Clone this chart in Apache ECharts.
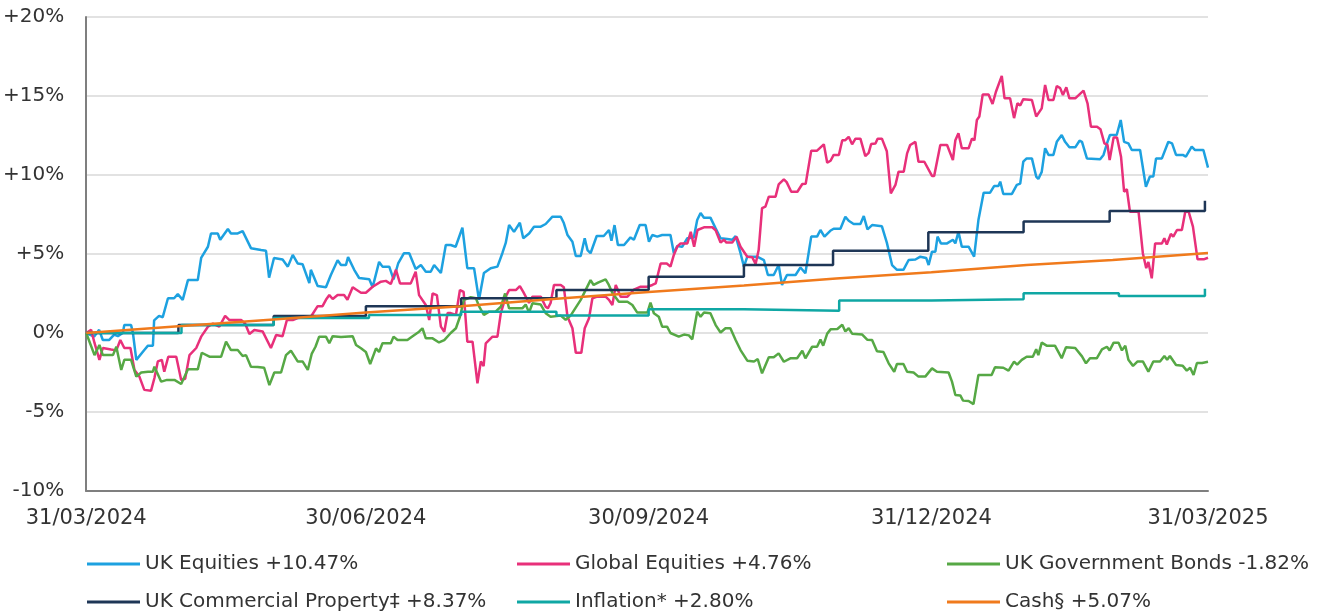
<!DOCTYPE html>
<html>
<head>
<meta charset="utf-8">
<script src="https://cdn.jsdelivr.net/npm/echarts@6/dist/echarts.min.js"></script>
<style>
    html, body {margin: 0; padding: 0; background: #FFFFFF;}
    #returnsChart {width: 1332px; height: 613px;}
</style>
</head>
<body>
<div id="returnsChart"></div>
<script>
//  x 轴：距 31/03/2024 的天数
const xTickDays = [0, 91, 183, 275, 365];
const xTickLabels = ['31/03/2024', '30/06/2024', '30/09/2024', '31/12/2024', '31/03/2025'];

const seriesNames = [
    'UK Equities +10.47%',
    'Global Equities +4.76%',
    'UK Government Bonds -1.82%',
    'UK Commercial Property‡ +8.37%',
    'Inflation* +2.80%',
    'Cash§ +5.07%'
];
const colorConfig = ['#1DA1E0', '#E8307A', '#56A845', '#1E3656', '#0FA7A4', '#F07A1C'];

//  [天数, 累计回报 %]
const ukEquities = [
    [0, 0], [2.6, -0.23], [4.2, 0.2], [5.4, -0.44], [7.5, -0.44], [9.1, -0.1], [10.3, -0.2], [11.9, 0],
    [12.4, 0.5], [14.6, 0.5], [15.2, 0], [16.3, -1.7], [18.9, -1.08], [20.1, -0.8], [21.7, -0.8], [22.1, 0.8],
    [23.7, 1.08], [24.9, 1.0], [26.6, 2.2], [28.6, 2.2], [29.8, 2.46], [31.4, 2.1], [33.1, 3.35], [36.3, 3.35],
    [37.4, 4.75], [39.6, 5.46], [40.6, 6.3], [42.8, 6.3], [43.6, 5.9], [46.1, 6.58], [47.1, 6.3], [49.3, 6.3],
    [50.9, 6.45], [53.6, 5.37], [56.9, 5.25], [58.5, 5.2], [59.5, 3.5], [61.1, 4.75], [63.9, 4.65], [65.6, 4.2],
    [67.2, 4.94], [68.8, 4.4], [70.4, 4.35], [72.6, 3.16], [73.1, 4.0], [75.3, 2.97], [78.0, 2.9], [79.6, 3.67],
    [81.8, 4.6], [82.9, 4.3], [84.5, 4.3], [85.2, 4.8], [87.2, 4.0], [88.8, 3.48], [92.1, 3.4], [93.2, 2.9],
    [95.3, 4.5], [96.4, 4.2], [98.6, 4.2], [100.0, 3.4], [101.5, 4.4], [103.4, 5.05], [105.1, 5.05], [107.2, 4.05],
    [108.9, 4.3], [110.5, 3.88], [112.1, 3.88], [113.2, 4.3], [115.4, 3.8], [117.0, 5.57], [118.6, 5.57], [120.2, 5.46],
    [122.4, 6.66], [124.0, 4.1], [126.2, 4.1], [127.8, 2.1], [129.4, 3.8], [131.6, 4.1], [133.8, 4.2], [135.4, 5.05],
    [136.5, 5.7], [137.6, 6.83], [139.2, 6.4], [141.1, 6.98], [142.2, 6.0], [144.1, 6.3], [145.7, 6.73], [147.9, 6.73],
    [149.5, 6.9], [151.7, 7.36], [154.4, 7.36], [155.4, 6.96], [156.6, 6.2], [158.2, 5.78], [159.3, 4.87], [160.9, 4.87],
    [162.2, 6.0], [163.1, 5.25], [164.1, 5.05], [166.1, 6.14], [168.4, 6.14], [170.1, 6.52], [170.9, 5.84], [171.9, 6.83],
    [173.0, 5.57], [175.0, 5.57], [177.1, 6.05], [178.2, 5.9], [180.1, 6.83], [182.0, 6.83], [183.1, 5.78], [184.2, 6.2],
    [185.8, 6.1], [187.4, 6.2], [190.1, 6.2], [191.2, 5.05], [192.3, 5.5], [193.9, 5.45], [195.6, 6.0], [197.7, 6.05],
    [198.8, 7.15], [199.9, 7.6], [201.0, 7.3], [203.1, 7.3], [204.8, 6.62], [206.4, 6.0], [208.6, 5.95], [210.2, 5.9],
    [211.3, 6.14], [212.9, 5.05], [214.0, 4.2], [215.1, 4.83], [218.3, 4.83], [220.5, 4.62], [221.8, 3.67], [223.7, 3.67],
    [225.3, 4.3], [226.4, 3.04], [228.0, 3.67], [230.8, 3.67], [232.4, 4.15], [234.0, 3.78], [235.9, 6.1], [237.8, 6.1],
    [238.9, 6.52], [240.2, 6.1], [242.1, 6.47], [243.2, 6.6], [245.4, 6.6], [247.0, 7.36], [248.1, 7.1], [249.7, 6.9],
    [251.9, 6.9], [253.0, 7.4], [254.2, 6.56], [255.7, 6.83], [258.9, 6.75], [260.5, 5.72], [262.2, 4.3], [263.8, 4.0],
    [265.9, 4.0], [267.6, 4.62], [269.8, 4.65], [271.4, 4.83], [273.3, 4.75], [274.1, 4.3], [275.2, 5.15], [276.3, 5.15],
    [277.0, 6.1], [278.1, 5.67], [280.1, 5.67], [282.0, 5.9], [282.8, 5.67], [283.8, 6.4], [284.9, 5.46], [287.1, 5.46],
    [288.9, 4.83], [290.3, 7.15], [292.0, 8.88], [294.1, 8.88], [295.4, 9.3], [296.8, 9.3], [297.4, 9.58], [298.4, 8.8],
    [301.2, 8.8], [302.8, 9.37], [303.9, 9.45], [304.9, 10.84], [306.0, 11.05], [307.7, 11.05], [309.1, 9.9], [309.8, 9.75],
    [310.9, 10.2], [312.0, 11.69], [313.1, 11.27], [314.7, 11.27], [315.8, 12.1], [317.4, 12.53], [318.5, 12.1], [319.9, 11.75],
    [321.8, 11.75], [323.2, 12.17], [324.0, 12.1], [325.6, 11.05], [329.9, 11.0], [331.0, 11.27], [332.3, 12.1], [333.1, 12.53],
    [335.3, 12.53], [336.6, 13.48], [337.7, 12.1], [339.1, 12.0], [340.2, 11.58], [342.9, 11.58], [344.8, 9.26], [346.1, 9.9],
    [347.2, 9.9], [348.1, 11.05], [350.0, 11.05], [352.1, 12.1], [353.3, 12.0], [354.6, 11.27], [356.8, 11.27], [357.8, 11.16],
    [359.7, 11.8], [360.8, 11.58], [363.5, 11.58], [365, 10.47]
];

const globalEquities = [
    [0, 0], [1.6, 0.2], [2.7, -0.63], [4.3, -1.7], [5.4, -0.95], [8.1, -1.05], [9.8, -1.1], [11.1, -0.44],
    [12.4, -0.95], [14.4, -0.95], [15.7, -2.34], [17.3, -2.76], [18.9, -3.6], [21.1, -3.65], [22.2, -2.85], [23.3, -1.8],
    [24.6, -1.7], [25.4, -2.45], [26.7, -1.5], [29.3, -1.5], [30.9, -2.97], [32.2, -2.9], [33.6, -1.4], [35.8, -0.95],
    [37.4, -0.23], [39.6, 0.4], [41.2, 0.6], [43.3, 0.4], [45.2, 1.08], [46.6, 0.82], [50.4, 0.82], [51.7, 0.6],
    [53.1, -0.06], [54.7, 0.19], [57.4, 0.1], [60.1, -0.95], [61.8, -0.13], [63.9, -0.2], [65.3, 0.82], [67.2, 0.82],
    [68.8, 0.95], [73.1, 1.03], [75.3, 1.7], [76.9, 1.7], [78.0, 2.1], [79.1, 2.4], [80.2, 2.15], [81.8, 2.4],
    [83.9, 2.4], [85.0, 2.1], [86.7, 2.9], [87.8, 2.75], [89.4, 2.55], [91.0, 2.55], [93.2, 2.93], [95.9, 3.25],
    [97.5, 3.3], [99.1, 3.1], [100.8, 4.0], [102.1, 3.14], [105.6, 3.14], [107.2, 3.88], [108.3, 2.4], [110.5, 1.77],
    [111.6, 0.82], [112.7, 2.5], [114.1, 2.4], [115.4, 0.4], [116.5, 0.08], [117.6, 1.26], [118.6, 1.26], [120.3, 1.15],
    [121.6, 2.72], [122.8, 2.6], [124.0, -0.55], [125.7, -0.55], [127.3, -3.18], [128.4, -1.8], [129.3, -2.1], [130.0, -0.65],
    [132.2, -0.23], [133.8, -0.23], [134.9, 1.26], [136.5, 2.3], [137.6, 2.72], [139.8, 2.72], [141.1, 2.97], [142.2, 2.6],
    [144.1, 1.9], [145.2, 2.3], [147.9, 2.3], [149.5, 1.66], [150.2, 1.56], [151.1, 1.9], [152.2, 3.04], [154.4, 3.04],
    [155.4, 2.9], [156.6, 1.03], [158.2, 0.3], [159.3, -1.25], [161.1, -1.25], [162.2, 0.3], [163.6, 0.93], [164.7, 2.2],
    [166.3, 2.3], [169.0, 2.3], [170.1, 2.1], [171.2, 1.77], [172.3, 3.04], [173.9, 2.3], [176.1, 2.3], [177.1, 2.5],
    [178.2, 2.75], [180.4, 2.93], [182.6, 2.93], [184.2, 3.04], [185.3, 3.14], [186.9, 4.4], [188.9, 4.4], [190.1, 4.2],
    [191.2, 4.94], [192.3, 5.46], [193.4, 5.67], [195.6, 5.67], [196.7, 6.4], [197.8, 5.46], [198.9, 6.52], [201.0, 6.69],
    [203.7, 6.69], [204.8, 6.5], [206.4, 5.72], [207.5, 5.9], [208.3, 5.72], [210.2, 5.72], [211.6, 6.1], [212.9, 5.46],
    [215.1, 4.83], [216.7, 4.8], [217.8, 4.37], [218.8, 5.25], [219.9, 7.9], [221.0, 8.0], [222.1, 8.63], [224.3, 8.63],
    [225.3, 9.4], [227.0, 9.73], [227.9, 9.55], [229.4, 8.94], [231.4, 8.94], [233.0, 9.43], [234.1, 9.45], [235.9, 11.54],
    [237.8, 11.54], [240.0, 11.94], [241.1, 10.78], [242.2, 10.9], [243.2, 11.27], [244.9, 11.27], [246.0, 12.2], [247.0, 12.2],
    [248.1, 12.42], [249.2, 11.94], [250.3, 12.3], [251.9, 12.3], [253.5, 11.2], [254.6, 11.4], [255.4, 11.96], [256.8, 12.0],
    [257.5, 12.3], [258.9, 12.3], [260.5, 11.5], [261.8, 8.84], [263.3, 9.37], [264.3, 10.2], [266.0, 10.2], [267.1, 11.37],
    [268.1, 11.9], [269.8, 12.1], [270.8, 10.84], [272.7, 10.84], [275.2, 9.94], [275.9, 9.94], [277.9, 11.9], [280.1, 11.9],
    [282.0, 10.95], [282.8, 12.2], [283.8, 12.64], [284.9, 11.69], [287.1, 11.69], [288.2, 12.3], [289.0, 12.2], [289.8, 13.48],
    [290.6, 13.7], [291.7, 15.1], [293.6, 15.1], [294.9, 14.5], [296.0, 15.27], [297.9, 16.27], [298.8, 14.85], [300.6, 14.85],
    [301.9, 13.6], [303.0, 14.54], [303.9, 14.4], [304.9, 14.8], [307.7, 14.75], [309.1, 13.7], [310.9, 14.22], [312.0, 15.7],
    [313.1, 14.75], [314.7, 14.75], [315.8, 15.63], [316.9, 15.5], [317.8, 15.06], [318.9, 15.55], [319.9, 14.85], [321.8, 14.85],
    [324.5, 15.34], [325.8, 14.54], [326.9, 13.06], [328.9, 13.06], [330.0, 12.9], [331.3, 12.0], [332.3, 11.9], [333.0, 10.95],
    [334.3, 12.38], [335.4, 12.38], [336.7, 11.16], [337.7, 8.94], [338.6, 9.1], [339.6, 7.68], [342.4, 7.68], [343.8, 5.05],
    [344.9, 4.1], [345.6, 4.5], [346.7, 3.46], [347.8, 5.67], [350.0, 5.67], [350.8, 6.0], [351.6, 5.6], [352.9, 6.27],
    [353.7, 6.1], [354.9, 6.52], [356.5, 6.52], [357.6, 7.68], [358.7, 7.68], [360.1, 6.73], [361.6, 4.66], [363.6, 4.66],
    [365, 4.76]
];

const ukGovBonds = [
    [0, 0], [2.7, -1.4], [4.3, -0.76], [5.4, -1.4], [8.7, -1.4], [9.8, -0.87], [11.4, -2.34], [12.4, -1.7],
    [14.6, -1.7], [16.3, -2.76], [17.9, -2.5], [20.1, -2.45], [21.7, -2.45], [22.2, -2.13], [24.4, -3.08], [26.3, -2.97],
    [28.7, -2.97], [30.9, -3.23], [33.1, -2.3], [36.3, -2.3], [37.6, -1.25], [40.1, -1.5], [43.9, -1.5], [45.5, -0.55],
    [47.1, -1.08], [49.3, -1.08], [50.9, -1.46], [52.0, -1.4], [53.6, -2.13], [55.8, -2.15], [57.9, -2.2], [59.6, -3.3],
    [61.2, -2.5], [63.4, -2.5], [65.0, -1.4], [66.6, -1.12], [68.8, -1.8], [70.4, -1.8], [72.1, -2.34], [73.4, -1.3],
    [74.6, -0.87], [75.8, -0.23], [78.0, -0.23], [79.1, -0.65], [80.2, -0.2], [82.9, -0.25], [86.7, -0.2], [87.8, -0.76],
    [89.4, -0.97], [91.0, -1.2], [92.4, -1.96], [94.3, -0.97], [95.3, -1.2], [96.4, -0.65], [99.1, -0.65], [100.0, -0.23],
    [101.3, -0.44], [104.5, -0.44], [106.2, -0.2], [108.3, 0.08], [109.4, 0.3], [110.5, -0.34], [112.7, -0.34], [114.8, -0.6],
    [116.5, -0.45], [118.6, 0], [120.3, 0.3], [121.6, 1.03], [122.9, 2.1], [125.1, 2.26], [126.8, 2.2], [127.8, 1.7],
    [129.4, 1.14], [131.1, 1.35], [133.2, 1.35], [134.9, 1.66], [136.3, 2.5], [137.6, 1.56], [141.9, 1.56], [143.0, 1.8],
    [144.1, 1.29], [145.2, 1.88], [147.9, 1.8], [149.5, 1.25], [151.1, 1.03], [154.4, 1.1], [156.0, 0.84], [157.6, 1.1],
    [160.9, 2.1], [164.1, 3.35], [165.1, 3.04], [166.7, 3.2], [169.0, 3.4], [169.9, 3.1], [171.2, 2.53], [173.3, 1.98],
    [176.1, 1.98], [177.7, 1.77], [179.3, 1.29], [182.6, 1.29], [183.6, 1.92], [184.7, 1.25], [186.3, 1.03], [187.4, 0.4],
    [189.0, 0.4], [190.1, 0], [192.8, -0.23], [194.5, -0.1], [196.1, -0.15], [197.2, -0.4], [198.8, 1.35], [199.9, 1.03],
    [201.0, 1.3], [203.1, 1.25], [204.8, 0.5], [206.4, 0.03], [208.0, 0.3], [209.6, 0.3], [211.3, -0.44], [212.9, -1.08],
    [215.1, -1.75], [217.3, -1.8], [218.5, -1.65], [219.9, -2.55], [222.1, -1.54], [223.7, -1.54], [225.3, -1.29], [227.0, -1.82],
    [229.1, -1.6], [231.3, -1.6], [233.0, -1.12], [234.0, -1.6], [236.2, -0.87], [237.8, -0.87], [238.9, -0.42], [239.8, -0.8],
    [241.1, -0.04], [242.2, 0.23], [244.4, 0.25], [246.0, 0.52], [247.0, 0.1], [248.1, 0.3], [249.2, -0.04], [252.5, -0.1],
    [254.1, -0.42], [255.7, -0.45], [257.3, -1.16], [259.4, -1.2], [261.1, -1.92], [262.9, -2.45], [263.8, -1.96], [265.9, -1.96],
    [267.1, -2.45], [269.2, -2.5], [270.8, -2.76], [273.0, -2.76], [275.2, -2.24], [276.8, -2.45], [280.6, -2.5], [281.7, -3.08],
    [282.8, -3.92], [284.4, -3.95], [285.3, -4.28], [287.1, -4.3], [288.7, -4.5], [290.3, -2.66], [294.6, -2.66], [295.7, -2.17],
    [298.4, -2.2], [300.1, -2.38], [301.9, -1.81], [302.9, -2.0], [304.4, -1.7], [306.0, -1.5], [308.0, -1.5], [309.1, -1.03],
    [309.8, -1.4], [310.9, -0.61], [312.5, -0.8], [315.2, -0.8], [316.3, -1.2], [317.4, -1.6], [318.8, -0.9], [321.8, -0.95],
    [324.0, -1.48], [325.3, -1.92], [326.6, -1.6], [328.8, -1.6], [330.5, -1.03], [332.1, -0.87], [333.0, -1.1], [334.3, -0.61],
    [335.9, -0.61], [337.0, -1.1], [338.1, -0.8], [339.1, -1.7], [340.6, -2.08], [342.1, -1.8], [343.8, -1.8], [345.6, -2.45],
    [347.2, -1.8], [349.4, -1.8], [350.8, -1.46], [351.7, -1.7], [352.6, -1.46], [354.6, -2.03], [356.8, -2.08], [358.1, -2.38],
    [359.2, -2.2], [360.3, -2.66], [361.4, -1.9], [363.1, -1.9], [365, -1.82]
];

//  月度数据（阶梯）
const ukCommercialProperty = [
    [0, 0], [30, 0.5], [61, 1.08], [91, 1.7], [122, 2.2], [153, 2.72], [183, 3.56],
    [214, 4.3], [243, 5.2], [274, 6.37], [305, 7.05], [333, 7.72], [364, 8.37]
];
const inflation = [
    [0, 0], [31, 0.5], [61, 0.95], [92, 1.14], [122, 1.35], [153, 1.1], [183, 1.5],
    [214, 1.41], [245, 2.05], [275, 2.13], [305, 2.51], [336, 2.34], [364, 2.8]
];
const cash = [
    [0, 0], [30, 0.42], [61, 0.86], [91, 1.3], [122, 1.7], [153, 2.17], [183, 2.6],
    [214, 3.0], [244, 3.45], [275, 3.85], [306, 4.3], [334, 4.62], [365, 5.07]
];

const seriesData = [ukEquities, globalEquities, ukGovBonds, ukCommercialProperty, inflation, cash];
const seriesStep = [false, false, false, 'end', 'end', false];

const fontFamily = '"DejaVu Sans", sans-serif';
const textColor = '#333333';

//  每列两个图例
const legendBlock = function (names, left) {
    return {
        data: names,
        orient: 'vertical',
        left: left,
        top: 554,
        padding: 0,
        icon: 'rect',
        itemWidth: 53,
        itemHeight: 3,
        itemGap: 18,
        selectedMode: false,
        textStyle: {color: textColor, fontSize: 20, fontFamily: fontFamily, lineHeight: 20},
    };
};

const returnsOption = function () {
    return {
        animation: false,
        color: colorConfig,
        grid: {
            left: 85,
            right: 124,
            top: 17,
            bottom: 122,
        },
        legend: [
            legendBlock([seriesNames[0], seriesNames[3]], 87),
            legendBlock([seriesNames[1], seriesNames[4]], 517),
            legendBlock([seriesNames[2], seriesNames[5]], 947),
        ],
        xAxis: {
            type: 'value',
            min: 0,
            max: 365,
            axisLine: {onZero: false, lineStyle: {color: '#7F7F7F', width: 2}},
            axisTick: {show: false},
            splitLine: {show: false},
            axisLabel: {
                customValues: xTickDays,
                color: textColor,
                fontSize: 21,
                fontFamily: fontFamily,
                margin: 17,
                formatter: function (value) {
                    const i = xTickDays.indexOf(value);
                    return i >= 0 ? xTickLabels[i] : '';
                }
            },
        },
        yAxis: {
            type: 'value',
            min: -10,
            max: 20,
            interval: 5,
            axisLine: {show: true, lineStyle: {color: '#7F7F7F', width: 2}},
            axisTick: {show: false},
            splitLine: {lineStyle: {color: '#D9D9D9', width: 1.5}},
            axisLabel: {
                color: textColor,
                fontSize: 20,
                fontFamily: fontFamily,
                margin: 22,
                formatter: function (value) {
                    return (value > 0 ? '+' : '') + value + '%';
                }
            },
        },
        series: seriesNames.map(function (name, i) {
            return {
                name: name,
                type: 'line',
                data: seriesData[i],
                step: seriesStep[i],
                showSymbol: false,
                lineStyle: {width: 2.5, color: colorConfig[i]},
                itemStyle: {color: colorConfig[i]},
            };
        }),
    };
};

const myChart = echarts.init(document.getElementById('returnsChart'));
myChart.setOption(returnsOption());
</script>
</body>
</html>
